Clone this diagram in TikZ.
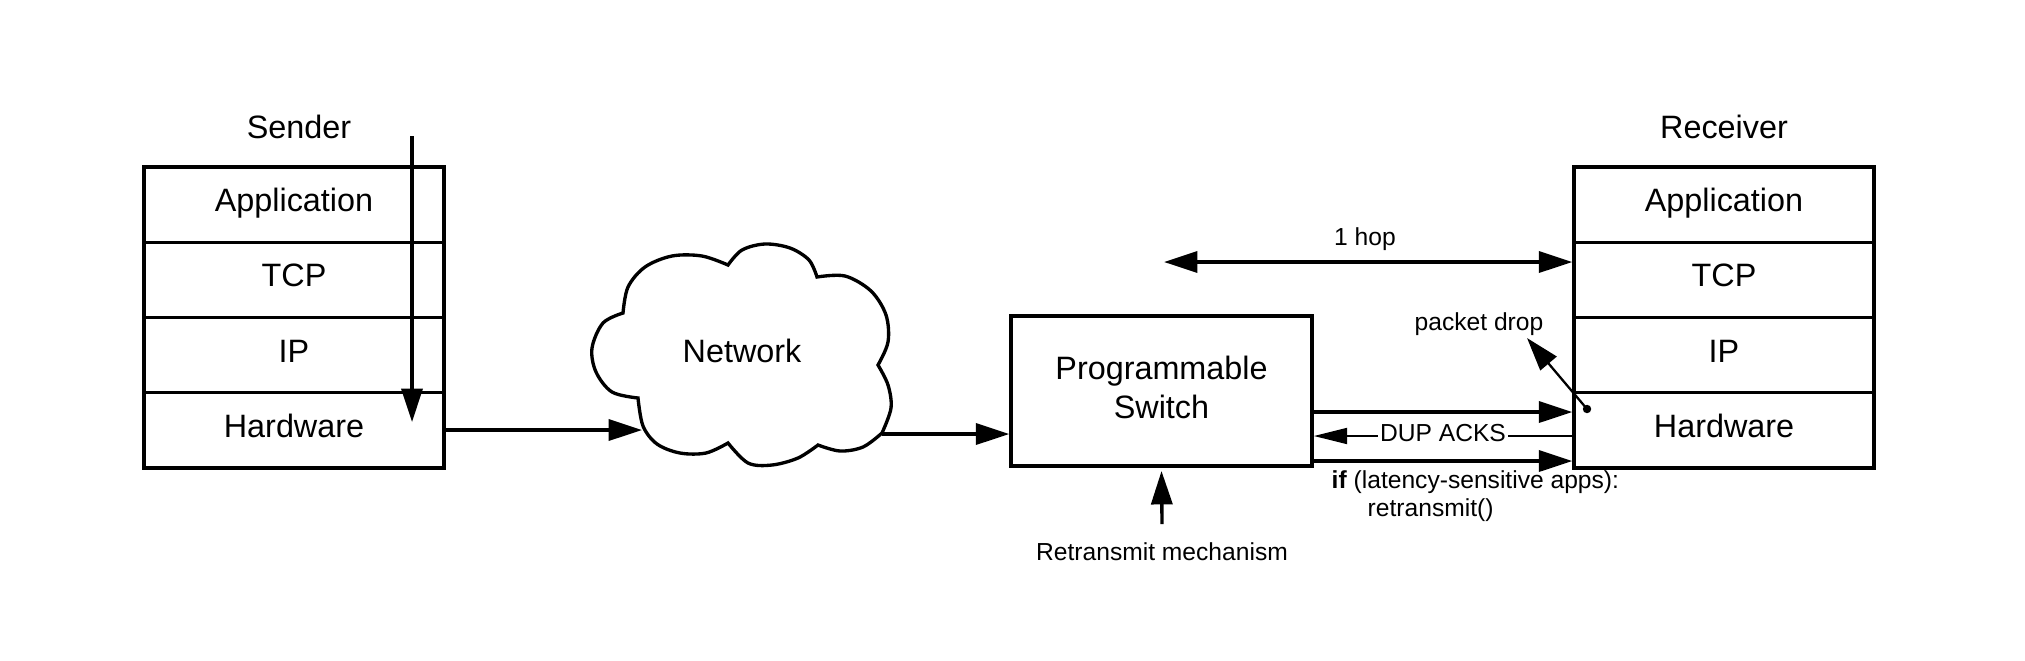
\documentclass[tikz,border=0pt]{standalone}
\usepackage{fontspec}
\setmainfont{Liberation Sans}
\usetikzlibrary{arrows.meta}
\newcommand\fbig{\fontsize{9.2}{11}\selectfont}
\newcommand\fsmall{\fontsize{7}{8.4}\selectfont}
\begin{document}
\begin{tikzpicture}[x=0.01cm,y=-0.01cm,
  box/.style={draw, line width=0.95pt},
  row/.style={box, minimum width=3cm, minimum height=0.7525cm, inner sep=0pt,
    font=\fbig, text height=7.6pt, text depth=3.65pt},
  bigtxt/.style={font=\fbig, inner sep=0pt},
  smalltxt/.style={font=\fsmall, inner sep=0pt},
  arr/.style={line width=0.95pt, -{Triangle[length=9.5pt,width=6pt]}},
  thinarr/.style={line width=0.65pt, -{Triangle[length=9.5pt,width=6pt]}},
  duparr/.style={line width=0.7pt, -{Triangle[length=9.5pt,width=4.5pt]}}]
\useasboundingbox (0,0) rectangle (2025,660);

% Sender stack
\node[bigtxt, anchor=base] (sender) at (299,138) {Sender};
\node[row] (sapp) at (294,204.6) {Application};
\node[row] (stcp) at (294,279.9) {TCP};
\node[row] (sip)  at (294,355.1) {IP};
\node[row] (shw)  at (294,430.4) {Hardware};

% Receiver stack
\node[bigtxt, anchor=base] (receiver) at (1724,138) {Receiver};
\node[row] (rapp) at (1724,204.6) {Application};
\node[row] (rtcp) at (1724,279.9) {TCP};
\node[row] (rip)  at (1724,355.1) {IP};
\node[row] (rhw)  at (1724,430.4) {Hardware};

% Cloud
\draw[box, line join=miter]
  plot[smooth, tension=0.55] coordinates {(638,398) (612,392) (596,372) (592,348) (603,323) (623,313)}
  -- plot[smooth, tension=0.55] coordinates {(623,313) (628,287) (645,267) (672,256) (702,256) (728,265)}
  -- plot[smooth, tension=0.55] coordinates {(728,265) (742,250) (765,244) (790,248) (809,260) (817,277)}
  -- plot[smooth, tension=0.55] coordinates {(817,277) (845,276) (871,291) (886,315) (888,342) (878,365)}
  -- plot[smooth, tension=0.55] coordinates {(878,365) (888,385) (891,408) (882,433)}
  -- plot[smooth, tension=0.55] coordinates {(882,433) (863,447) (840,451) (818,445)}
  -- plot[smooth, tension=0.55] coordinates {(818,445) (798,458) (772,465) (748,463) (728,443)}
  -- plot[smooth, tension=0.55] coordinates {(728,443) (706,453) (680,453) (657,444) (643,426) (638,398)}
  -- cycle;
\node[bigtxt, anchor=base] (net) at (742,362) {Network};
\coordinate (cloudin) at (642,430);
\coordinate (cloudout) at (882,434);

% Switch
\node[box, minimum width=3.01cm, minimum height=1.5cm, inner sep=0pt] (sw) at (1161.5,391) {};
\node[bigtxt, anchor=base] (swt1) at (1161.5,379) {Programmable};
\node[bigtxt, anchor=base] (swt2) at (1161.5,418.5) {Switch};

% Sender internal arrow
\coordinate (sdtop) at (412,136);
\coordinate (sdbot) at (412,422);
\draw[arr] (sdtop) -- (sdbot);

% Sender -> cloud -> switch
\draw[arr] (shw.east |- cloudin) -- (cloudin);
\draw[arr] (cloudout) -- (sw.west |- cloudout);

% 1 hop
\coordinate (hopL) at (1164,262);
\draw[line width=0.95pt, {Triangle[length=9.5pt,width=6pt]}-{Triangle[length=9.5pt,width=6pt]}]
  (hopL) -- (rtcp.west |- hopL);
\node[smalltxt, anchor=base] (hop) at (1365,245) {1 hop};

% Switch <-> receiver
\draw[arr] (sw.east |- 0,412) -- (rhw.west |- 0,412);
\draw[duparr] (rhw.west |- 0,436) -- (sw.east |- 0,436)
  node[pos=0.5, smalltxt, fill=white, inner xsep=0.6pt, inner ysep=1pt, yshift=0.85pt] (dup) {DUP ACKS};
\draw[arr] (sw.east |- 0,461) -- (rhw.west |- 0,461);
\node[smalltxt, anchor=base west] (if1) at (1331,488.5) {\textbf{if} (latency-sensitive apps):};
\node[smalltxt, anchor=base west] (if2) at (1367,516.5) {retransmit()};

% packet drop
\coordinate (drop) at (1587,409);
\coordinate (droptip) at (1527,338);
\fill (drop) circle[radius=1.2pt];
\draw[thinarr] (drop) -- (droptip);
\node[smalltxt, anchor=base] (pd) at (1479,330) {packet drop};

% Retransmit mechanism
\node[smalltxt, anchor=base] (rm) at (1162,560) {Retransmit mechanism};
\draw[arr] (rm.north |- 0,524) -- (sw.south |- 0,471);
\end{tikzpicture}
\end{document}
